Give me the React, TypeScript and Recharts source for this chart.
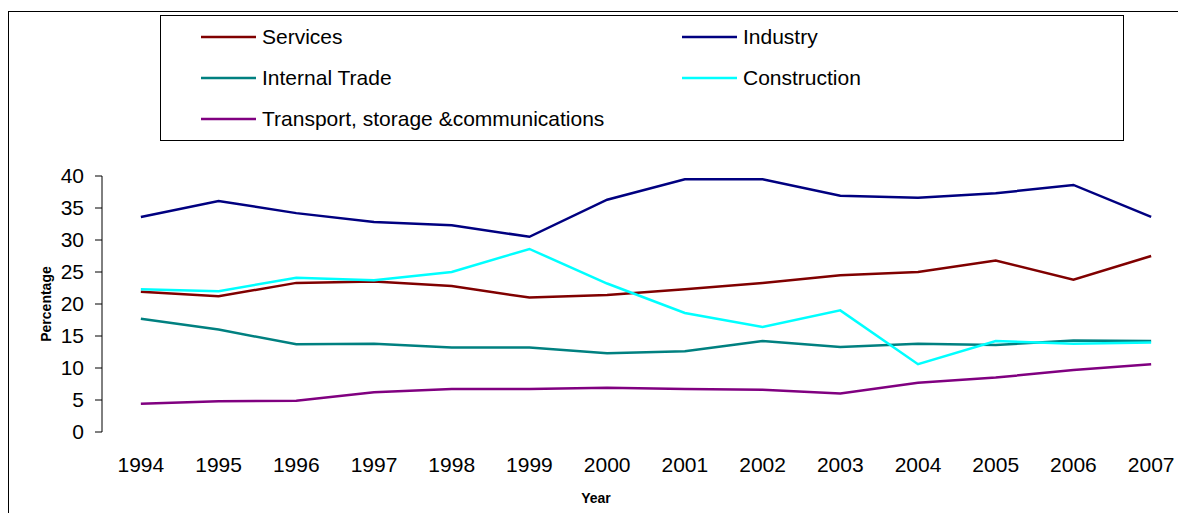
import React from 'react';
import { LineChart, Line, XAxis, YAxis, Legend, Label } from 'recharts';

// years on the x axis
const years = ['1994', '1995', '1996', '1997', '1998', '1999', '2000', '2001', '2002', '2003', '2004', '2005', '2006', '2007'];

// percentage shares per sector
const services = [21.9, 21.2, 23.3, 23.5, 22.8, 21.0, 21.4, 22.3, 23.3, 24.5, 25.0, 26.8, 23.8, 27.5];
const industry = [33.6, 36.1, 34.2, 32.8, 32.3, 30.5, 36.3, 39.5, 39.5, 36.9, 36.6, 37.3, 38.6, 33.6];
const internalTrade = [17.7, 16.0, 13.7, 13.8, 13.2, 13.2, 12.3, 12.6, 14.2, 13.3, 13.8, 13.6, 14.3, 14.2];
const construction = [22.3, 22.0, 24.1, 23.7, 25.0, 28.6, 23.2, 18.6, 16.4, 19.0, 10.6, 14.2, 13.8, 14.0];
const transport = [4.4, 4.8, 4.9, 6.2, 6.7, 6.7, 6.9, 6.7, 6.6, 6.0, 7.7, 8.5, 9.7, 10.6];

const seriesNames = ['Services', 'Industry', 'Internal Trade', 'Construction', 'Transport, storage &communications'];
const seriesValues = [services, industry, internalTrade, construction, transport];
const seriesColors = ['#800000', '#000080', '#008080', '#00FFFF', '#800080'];

const yTicks = [0, 5, 10, 15, 20, 25, 30, 35, 40];

const data = years.map((year, i) => {
  const row: Record<string, number | string> = { idx: i, year };
  seriesNames.forEach((name, s) => {
    row[name] = seriesValues[s][i];
  });
  return row;
});

// tick marks sit between the categories, labels in the middle
const edgeTicks = years.map((_, i) => i - 0.5);
const yearTicks = years.map((_, i) => i);

const FONT = '"Liberation Sans", Arial, sans-serif';

function LegendBox() {
  return (
    <div
      style={{
        width: 964,
        height: 126,
        border: '1px solid #000',
        boxSizing: 'border-box',
        position: 'relative',
        background: '#fff',
        fontFamily: FONT,
      }}
    >
      {seriesNames.map((name, i) => (
        <div
          key={name}
          style={{
            position: 'absolute',
            left: (i % 2) * 481 + 40,
            top: Math.floor(i / 2) * 41 + 9,
            height: 24,
            display: 'flex',
            alignItems: 'center',
          }}
        >
          <svg width={55} height={4} style={{ display: 'block' }}>
            <line x1={0} x2={55} y1={2} y2={2} stroke={seriesColors[i]} strokeWidth={2.5} />
          </svg>
          <span style={{ marginLeft: 6, fontSize: 21, lineHeight: '24px', color: '#000', whiteSpace: 'pre' }}>{name}</span>
        </div>
      ))}
    </div>
  );
}

export default function App() {
  return (
    <div style={{ position: 'relative', width: 1178, height: 505, overflow: 'hidden', fontFamily: FONT }}>
      <div
        style={{
          position: 'absolute',
          left: 0,
          top: 3,
          width: 1300,
          height: 600,
          border: '1px solid #000',
          boxSizing: 'border-box',
        }}
      />
      <div style={{ position: 'absolute', left: 0, top: 0 }}>
        <LineChart width={1200} height={505} data={data} margin={{ top: 168, right: 18, bottom: 0, left: 0 }}>
          <XAxis
            xAxisId="edge"
            dataKey="idx"
            type="number"
            domain={[-0.5, 13.5]}
            ticks={edgeTicks}
            interval={0}
            tickFormatter={() => ''}
            tickSize={7}
            height={0}
            axisLine={{ stroke: '#000' }}
            tickLine={{ stroke: '#000' }}
          />
          <XAxis
            xAxisId="years"
            dataKey="idx"
            type="number"
            domain={[-0.5, 13.5]}
            ticks={yearTicks}
            interval={0}
            tickFormatter={(v: number) => years[v]}
            tickLine={false}
            axisLine={false}
            tickSize={0}
            tickMargin={25}
            height={81}
            tick={{ fill: '#000', fontSize: 21, fontFamily: FONT }}
          >
            <Label
              content={() => (
                <text x={588} y={495} textAnchor="middle" fontSize={14} fontWeight="bold" fill="#000" fontFamily={FONT}>
                  Year
                </text>
              )}
            />
          </XAxis>
          <YAxis
            type="number"
            domain={[0, 40]}
            ticks={yTicks}
            interval={0}
            width={94}
            tickSize={7}
            tickMargin={11}
            axisLine={{ stroke: '#000' }}
            tickLine={{ stroke: '#000' }}
            tick={{ fill: '#000', fontSize: 21, fontFamily: FONT }}
          >
            <Label
              value="Percentage"
              angle={-90}
              position="insideLeft"
              offset={38}
              style={{ textAnchor: 'middle', fontWeight: 'bold', fontSize: 14, fill: '#000', fontFamily: FONT }}
            />
          </YAxis>
          <Legend
            layout="horizontal"
            verticalAlign="middle"
            align="center"
            wrapperStyle={{ left: 152, top: 7, width: 964, height: 126 }}
            content={() => <LegendBox />}
          />
          {seriesNames.map((name, i) => (
            <Line
              key={name}
              xAxisId="years"
              type="linear"
              dataKey={name}
              stroke={seriesColors[i]}
              strokeWidth={2.5}
              dot={false}
              activeDot={false}
              isAnimationActive={false}
            />
          ))}
        </LineChart>
      </div>
    </div>
  );
}
